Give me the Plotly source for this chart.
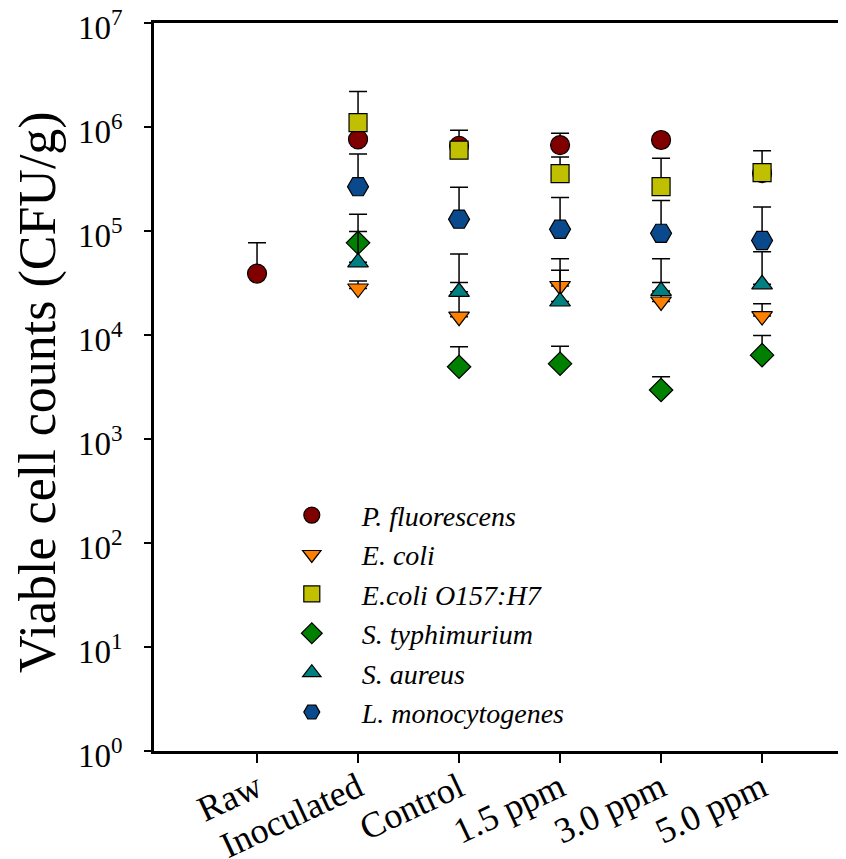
import plotly.graph_objects as go

categories = ["Raw", "Inoculated", "Control", "1.5 ppm", "3.0 ppm", "5.0 ppm"]
x_pos = [1, 2, 3, 4, 5, 6]

series_names = ["P. fluorescens", "E. coli", "E.coli O157:H7", "S. typhimurium", "S. aureus", "L. monocytogenes"]
y_title = "Viable cell counts (CFU/g)"

# mean values (None where not plotted)
pf_mean = [3.9e4, 7.6e5, 6.6e5, 6.7e5, 7.5e5, 3.6e5]
pf_upper = [7.7e4, 7.9e5, 9.3e5, 8.7e5, 7.8e5, 3.7e5]

ec_mean = [None, 2.8e4, 1.5e4, 2.96e4, 2.1e4, 1.52e4]
ec_upper = [None, 3.3e4, 3.2e4, 4.2e4, 3.2e4, 2.0e4]

o157_mean = [None, 1.1e6, 6.0e5, 3.56e5, 2.67e5, 3.64e5]
o157_upper = [None, 2.2e6, 6.2e5, 5.15e5, 5.0e5, 5.9e5]

st_mean = [None, 7.7e4, 4.95e3, 5.3e3, 2.96e3, 6.4e3]
st_upper = [None, 1.45e5, 7.7e3, 7.8e3, 3.97e3, 9.9e3]

sa_mean = [None, 5.0e4, 2.6e4, 2.1e4, 2.65e4, 3.07e4]
sa_upper = [None, 9.9e4, 6.0e4, 5.4e4, 5.4e4, 6.3e4]

lm_mean = [None, 2.67e5, 1.3e5, 1.04e5, 9.5e4, 8.1e4]
lm_upper = [None, 5.5e5, 2.63e5, 2.1e5, 1.97e5, 1.7e5]

y_tickvals = [1, 10, 100, 1e3, 1e4, 1e5, 1e6, 1e7]
y_ticktext = ["10<sup>%d</sup>" % i for i in range(8)]

FONT = "Liberation Serif"

series = [
    (series_names[0], pf_mean, pf_upper, "circle", "#800000", 19),
    (series_names[1], ec_mean, ec_upper, "triangle-down", "#FF8000", 18),
    (series_names[2], o157_mean, o157_upper, "square", "#C0C000", 18),
    (series_names[3], st_mean, st_upper, "diamond", "#008000", 18),
    (series_names[4], sa_mean, sa_upper, "triangle-up", "#008080", 18),
    (series_names[5], lm_mean, lm_upper, "hexagon2", "#0A4A8C", 21),
]

fig = go.Figure()
for i, (name, mean, upper, sym, col, size) in enumerate(series):
    xs, ys, plus = [], [], []
    for xp, m, u in zip(x_pos, mean, upper):
        if m is None:
            continue
        xs.append(xp)
        ys.append(m)
        plus.append(u - m)
    fig.add_trace(go.Scatter(
        x=xs, y=ys, mode="markers", name=name,
        marker=dict(symbol=sym, color=col, size=size, line=dict(color="black", width=1.2)),
        error_y=dict(type="data", array=plus, arrayminus=[0] * len(plus), symmetric=False,
                     color="black", thickness=1.5, width=9),
    ))

fig.update_layout(
    width=846, height=859,
    margin=dict(l=146, r=0, t=15, b=116),
    paper_bgcolor="white", plot_bgcolor="white",
    font=dict(family=FONT, color="black"),
    showlegend=True,
    legend=dict(
        x=0.154, y=0.358, xanchor="left", yanchor="top",
        font=dict(family=FONT, size=28, style="italic"),
        itemsizing="trace", itemwidth=90, bgcolor="rgba(0,0,0,0)",
    ),
    annotations=[dict(
        text=y_title, textangle=-90, xref="paper", yref="paper",
        x=-0.166, y=0.493, xanchor="center", yanchor="middle", showarrow=False,
        font=dict(family=FONT, size=52, color="black"),
    )],
)
fig.update_xaxes(
    range=[-0.02, 6.91], tickvals=x_pos, ticktext=categories, tickangle=-25,
    showline=True, linecolor="black", linewidth=2.5, mirror=True,
    ticks="outside", ticklen=9, tickwidth=1.5, tickcolor="black",
    showgrid=False, zeroline=False, automargin=False, ticklabeloverflow="allow",
    ticklabelstandoff=-10,
    tickfont=dict(family=FONT, size=36, color="black"),
)
fig.update_yaxes(
    type="log", range=[0, 7], tickvals=y_tickvals, ticktext=y_ticktext,
    showline=True, linecolor="black", linewidth=2.5, mirror=False,
    ticks="outside", ticklen=7, tickwidth=1.5, tickcolor="black",
    showgrid=False, zeroline=False, automargin=False, ticklabeloverflow="allow",
    ticklabelstandoff=15, ticklabelshift=4,
    tickfont=dict(family=FONT, size=33, color="black"),
)

fig.write_html("out.html")
